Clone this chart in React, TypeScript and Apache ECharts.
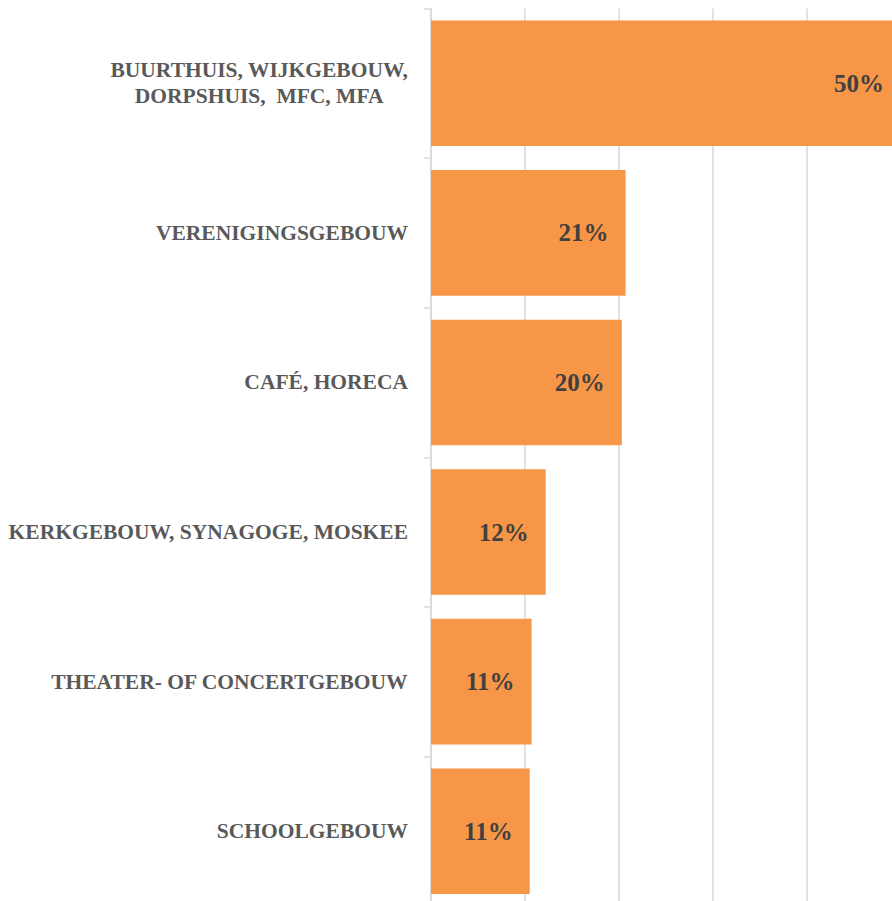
import React, { useEffect, useRef } from "react";
import * as echarts from "echarts";

const categories = [
  "BUURTHUIS, WIJKGEBOUW,\nDORPSHUIS,  MFC, MFA",
  "VERENIGINGSGEBOUW",
  "CAFÉ, HORECA",
  "KERKGEBOUW, SYNAGOGE, MOSKEE",
  "THEATER- OF CONCERTGEBOUW",
  "SCHOOLGEBOUW",
];
const shares = [0.5, 0.207, 0.203, 0.122, 0.107, 0.105];
const axisMax = 0.5;
const axisStep = 0.1;

const FONT = "'Liberation Serif', 'DejaVu Serif', serif";

export default function App() {
  const ref = useRef<HTMLDivElement>(null);
  useEffect(() => {
    document.body.style.margin = "0";
    const chart = echarts.init(ref.current!, null, { renderer: "svg" });
    chart.setOption({
      animation: false,
      grid: { left: 431, right: 0, top: 8.5, bottom: 0 },
      xAxis: {
        type: "value",
        min: 0,
        max: axisMax,
        interval: axisStep,
        axisLabel: { show: false },
        axisLine: { show: false },
        axisTick: { show: false },
        splitLine: { show: true, lineStyle: { color: "#D9D9D9", width: 1.5 } },
      },
      yAxis: {
        type: "category",
        inverse: true,
        data: categories,
        axisLine: { show: true, lineStyle: { color: "#D9D9D9", width: 1.5 } },
        axisTick: { show: true, length: 7, lineStyle: { color: "#D9D9D9", width: 1.5 } },
        axisLabel: {
          margin: 23,
          interval: 0,
          formatter: (v: string) =>
            v
              .split("\n")
              .map((l) => `{c|${l}}`)
              .join("\n"),
          rich: {
            c: {
              align: "center",
              fontFamily: FONT,
              fontWeight: "bold",
              fontSize: 21.5,
              color: "#595959",
              lineHeight: 26,
            },
          },
        },
      },
      series: [
        {
          type: "bar",
          data: shares,
          barCategoryGap: "16%",
          itemStyle: { color: "#F79646" },
          label: {
            show: true,
            position: "insideRight",
            distance: 17,
            formatter: (p: any) => Math.round(p.value * 100) + "%",
            fontFamily: FONT,
            fontWeight: "bold",
            fontSize: 25,
            color: "#404040",
          },
        },
      ],
    });
    return () => chart.dispose();
  }, []);
  return (
    <div style={{ width: 892, height: 901, overflow: "hidden", position: "relative" }}>
      <div ref={ref} style={{ width: 901, height: 906 }} />
    </div>
  );
}
